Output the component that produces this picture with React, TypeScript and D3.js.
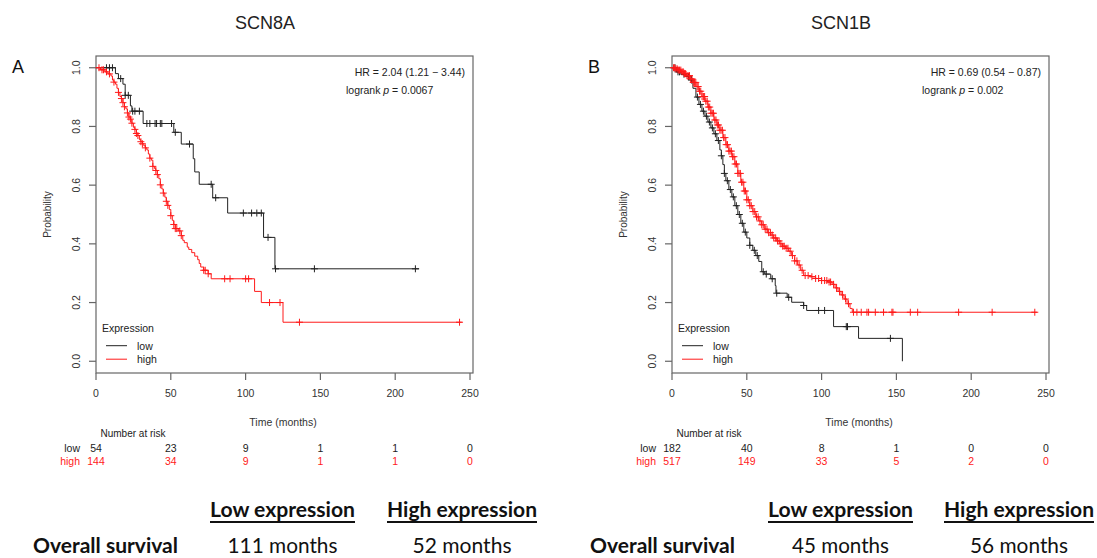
import React from "react";
import * as d3 from "d3";

// ---- data ----
const timeTicks = [0, 50, 100, 150, 200, 250];
const probTicks = [0, 0.2, 0.4, 0.6, 0.8, 1.0];

// SCN8A (panel A)
const scn8aLowSteps: [number, number][] = [
  [0, 1], [13, 0.98], [15, 0.963], [18, 0.944], [19.5, 0.906], [23, 0.87], [24, 0.852],
  [31.5, 0.81], [52, 0.78], [57, 0.74], [65, 0.69], [66, 0.645], [69, 0.603], [78, 0.557],
  [88, 0.505], [112, 0.422], [119.6, 0.315],
];
const scn8aLowEnd = 216;
const scn8aLowCensor = [7, 9, 11, 16.5, 19.5, 21.6, 24.5, 26, 29, 34, 36, 39.5, 40.5, 43, 44, 50.5,
  53, 62.5, 77, 80, 98.5, 104, 107.5, 110.5, 115, 120, 146, 213.5];

const scn8aHighSteps: [number, number][] = [
  [0, 1], [3, 0.993], [6, 0.986], [8, 0.979], [10, 0.972], [11, 0.958], [12, 0.951], [13, 0.944],
  [14, 0.93], [15, 0.916], [16, 0.902], [17, 0.895], [18, 0.881], [19, 0.867], [20, 0.86],
  [21, 0.846], [22, 0.832], [23, 0.825], [24, 0.811], [25, 0.797], [26, 0.79], [27, 0.776],
  [28, 0.769], [29, 0.755], [30, 0.748], [31, 0.741], [32, 0.734], [33, 0.727], [34, 0.72],
  [35, 0.706], [36, 0.692], [37, 0.685], [38, 0.664], [39, 0.657], [40, 0.65], [41, 0.636],
  [42, 0.622], [43, 0.601], [44, 0.587], [45, 0.573], [46, 0.559], [47, 0.545], [48, 0.531],
  [49, 0.517], [50, 0.496], [51, 0.48], [52, 0.466], [53, 0.452], [55, 0.444], [57, 0.428],
  [58, 0.412], [59, 0.404], [61, 0.389], [62, 0.381], [64, 0.37], [66, 0.358], [68, 0.346],
  [69, 0.333], [70, 0.321], [72, 0.31], [75, 0.298], [77, 0.281], [106, 0.238], [110.5, 0.2],
  [125, 0.133],
];
const scn8aHighEnd = 244.5;
const scn8aHighCensor = [2, 4, 5, 7, 9, 12, 15, 17, 18, 19, 21, 22, 23, 24, 26, 27, 28, 30, 31, 33,
  36, 38, 40, 41, 43, 45, 47, 48, 50, 52, 53, 54, 56, 57, 72, 73, 75, 86, 89.6, 100, 102, 116,
  123, 136, 243];

// SCN1B (panel B)
const scn1bLowSteps: [number, number][] = [
  [0, 1], [3, 0.986], [6, 0.978], [9, 0.97], [12, 0.958], [14, 0.93], [16, 0.9], [18, 0.875],
  [20, 0.852], [22, 0.835], [24, 0.815], [26, 0.795], [28, 0.775], [30, 0.752], [32, 0.72],
  [33, 0.7], [34, 0.67], [35, 0.64], [36, 0.615], [38, 0.585], [40, 0.56], [42, 0.53],
  [44, 0.5], [46, 0.47], [48, 0.44], [50, 0.42], [52, 0.395], [54, 0.378], [56, 0.36],
  [58, 0.34], [60, 0.305], [62, 0.297], [66, 0.281], [69, 0.258], [69.5, 0.232], [77, 0.218],
  [80, 0.201], [88, 0.19], [90, 0.173], [108, 0.118], [124.7, 0.078], [154, 0],
];
const scn1bLowEnd = 154;
const scn1bLowCensor = [2, 4, 5, 8, 11, 13, 17, 19, 21, 23, 25, 27, 29, 31, 33, 35, 37, 39, 41, 43,
  45, 47, 49, 52, 55, 57, 61, 63, 67, 70, 78, 88, 98, 102, 116.5, 117.3, 146];

const scn1bHighSteps: [number, number][] = [
  [0, 1], [2, 0.996], [4, 0.992], [6, 0.986], [8, 0.98], [10, 0.973], [12, 0.962], [14, 0.95],
  [16, 0.936], [18, 0.92], [20, 0.902], [22, 0.886], [24, 0.866], [26, 0.845], [28, 0.822],
  [30, 0.805], [32, 0.787], [34, 0.762], [36, 0.738], [38, 0.716], [40, 0.697], [42, 0.672],
  [44, 0.64], [46, 0.61], [48, 0.58], [50, 0.55], [52, 0.53], [54, 0.51], [56, 0.492],
  [58, 0.478], [60, 0.465], [62, 0.45], [64, 0.438], [66, 0.43], [68, 0.42], [70, 0.41],
  [72, 0.4], [74, 0.392], [76, 0.385], [78, 0.375], [80, 0.36], [82, 0.342], [84, 0.328],
  [86, 0.31], [88, 0.292], [92, 0.288], [96, 0.282], [100, 0.275], [104, 0.27], [107, 0.262],
  [109, 0.25], [111, 0.238], [113, 0.226], [115, 0.212], [117, 0.196], [119, 0.18],
  [120.5, 0.167],
];
const scn1bHighEnd = 244;
const scn1bHighCensor = [1, 1.8, 2.6, 3.5, 4.2, 5, 5.9, 6.7, 7.5, 8.4, 9.1, 10, 10.8, 11.7, 12.5,
  13.4, 14.2, 15, 15.9, 16.8, 17.5, 18.4, 19.2, 20.1, 21, 21.8, 22.6, 23.5, 24.3, 25.2, 26, 26.9,
  27.7, 28.6, 29.4, 30.3, 31.1, 32, 32.8, 33.7, 34.5, 35.4, 36.2, 37.1, 38, 38.8, 39.7, 40.5,
  41.4, 42.2, 43.1, 44, 44.8, 45.7, 46.5, 47.4, 48.3, 49.1, 50, 51, 52, 53, 54.2, 55.3, 56.5,
  57.6, 58.8, 60, 61, 62.3, 63.5, 64.6, 65.8, 67, 68, 69.3, 70.5, 71.6, 72.8, 74, 75, 76.3,
  77.5, 79, 80.5, 82, 83.5, 85, 87, 89, 91, 93.5, 96, 98, 100, 102, 103.5, 105, 106, 108, 110,
  112, 114, 116, 118, 121.3, 123.6, 126.5, 130.3, 131.4, 135.9, 141.4, 147, 147.7, 159.3,
  164.2, 191.6, 214, 242.5];

const scn8aRiskLow = [54, 23, 9, 1, 1, 0];
const scn8aRiskHigh = [144, 34, 9, 1, 1, 0];
const scn1bRiskLow = [182, 40, 8, 1, 0, 0];
const scn1bRiskHigh = [517, 149, 33, 5, 2, 0];

const groupLabels = ["low", "high"];
const tableHeaders = ["Low expression", "High expression"];
const tableHeaderWidths = [145, 150];
const scn8aMedians = ["111 months", "52 months"];
const scn8aMedianWidths = [110, 99];
const scn1bMedians = ["45 months", "56 months"];
const scn1bMedianWidths = [97, 98];

const LOW_COLOR = "#222";
const HIGH_COLOR = "#ff1a1a";
const AXIS_COLOR = "#666";
const TEXT_COLOR = "#333";
const RFONT = "'Liberation Sans', Arial, sans-serif";
const TFONT = "Lato, 'Open Sans', sans-serif";

type Curve = { steps: [number, number][]; end: number; censor: number[]; color: string };

function KMPanel(props: {
  left: number;
  title: string;
  letter: string;
  hr: string;
  p: string;
  curves: Curve[];
  riskLow: number[];
  riskHigh: number[];
}) {
  const { left, title, letter, hr, p, curves, riskLow, riskHigh } = props;
  const top = 56;
  const bottom = 373;
  const right = left + 377;
  const x = d3.scaleLinear().domain([0, 252]).range([left, right]);
  const y = d3.scaleLinear().domain([-0.04, 1.04]).range([bottom, top]);
  const line = d3
    .line<[number, number]>()
    .x((d) => x(d[0]))
    .y((d) => y(d[1]))
    .curve(d3.curveStepAfter);
  const bis = d3.bisector((d: [number, number]) => d[0]).right;

  return (
    <g>
      <text x={(left + x(250)) / 2 - 18} y={29} textAnchor="middle" fontFamily={RFONT} fontSize={18} fill="#222">
        {title}
      </text>
      <text x={left - 84} y={73} fontFamily={RFONT} fontSize={18} fill="#111">
        {letter}
      </text>
      <rect x={left} y={top} width={right - left} height={bottom - top} fill="none" stroke={AXIS_COLOR} strokeWidth={1.2} />
      {timeTicks.map((t) => (
        <g key={"xt" + t}>
          <line x1={x(t)} x2={x(t)} y1={bottom} y2={bottom + 7} stroke={AXIS_COLOR} strokeWidth={1.2} />
          <text x={x(t)} y={397} textAnchor="middle" fontFamily={RFONT} fontSize={10.5} fill={TEXT_COLOR}>
            {t}
          </text>
        </g>
      ))}
      {probTicks.map((v) => (
        <g key={"yt" + v}>
          <line x1={left - 7} x2={left} y1={y(v)} y2={y(v)} stroke={AXIS_COLOR} strokeWidth={1.2} />
          <text
            transform={`translate(${left - 16},${y(v)}) rotate(-90)`}
            textAnchor="middle"
            fontFamily={RFONT}
            fontSize={10.5}
            fill={TEXT_COLOR}
          >
            {v.toFixed(1)}
          </text>
        </g>
      ))}
      <text transform={`translate(${left - 45},${(top + bottom) / 2}) rotate(-90)`} textAnchor="middle" fontFamily={RFONT} fontSize={10} fill={TEXT_COLOR}>
        Probability
      </text>
      <text x={(x(0) + x(250)) / 2} y={426} textAnchor="middle" fontFamily={RFONT} fontSize={10.5} fill={TEXT_COLOR}>
        Time (months)
      </text>

      {curves.map((c, ci) => {
        const pts: [number, number][] = [...c.steps, [c.end, c.steps[c.steps.length - 1][1]]];
        return (
          <g key={"c" + ci}>
            <path d={line(pts) || ""} fill="none" stroke={c.color} strokeWidth={1} />
            {c.censor.map((t, i) => {
              const s = c.steps[Math.max(0, bis(c.steps, t) - 1)][1];
              const cx = x(t);
              const cy = y(s);
              return (
                <path key={i} d={`M${cx - 3.5},${cy}H${cx + 3.5}M${cx},${cy - 3.5}V${cy + 3.5}`} stroke={c.color} strokeWidth={1} />
              );
            })}
          </g>
        );
      })}

      <text x={x(250) - 5} y={76} textAnchor="end" fontFamily={RFONT} fontSize={10.5} fill="#222">
        {hr}
      </text>
      <text x={x(250) - 124} y={94} fontFamily={RFONT} fontSize={10.5} fill="#222">
        logrank <tspan fontStyle="italic">p</tspan> = {p}
      </text>

      <text x={left + 6} y={332} fontFamily={RFONT} fontSize={10.5} fill="#222">
        Expression
      </text>
      {groupLabels.map((g, i) => (
        <g key={g}>
          <line x1={left + 10} x2={left + 31} y1={345.7 + i * 13.5} y2={345.7 + i * 13.5} stroke={i === 0 ? LOW_COLOR : HIGH_COLOR} strokeWidth={1} />
          <text x={left + 41} y={349.5 + i * 13.5} fontFamily={RFONT} fontSize={10.5} fill="#222">
            {g}
          </text>
        </g>
      ))}

      <text x={left + 37} y={437} textAnchor="middle" fontFamily={RFONT} fontSize={10} fill="#222">
        Number at risk
      </text>
      {[riskLow, riskHigh].map((row, ri) => (
        <g key={"r" + ri} fill={ri === 0 ? "#222" : HIGH_COLOR} fontFamily={RFONT} fontSize={10.5}>
          <text x={left - 16} y={452 + ri * 13} textAnchor="end">
            {groupLabels[ri]}
          </text>
          {row.map((n, i) => (
            <text key={i} x={x(timeTicks[i])} y={452 + ri * 13} textAnchor="middle">
              {n}
            </text>
          ))}
        </g>
      ))}
    </g>
  );
}

function SurvivalTable(props: { labelX: number; colX: number[]; medians: string[]; medianWidths: number[] }) {
  const { labelX, colX, medians, medianWidths } = props;
  return (
    <g fontFamily={TFONT} fontSize={20.5} fill="#111">
      {tableHeaders.map((h, i) => (
        <text key={h} x={colX[i]} y={517} textAnchor="middle" fontWeight="bold" textLength={tableHeaderWidths[i]} lengthAdjust="spacingAndGlyphs">
          {h}
        </text>
      ))}
      {tableHeaders.map((h, i) => (
        <line
          key={"u" + i}
          x1={colX[i] - tableHeaderWidths[i] / 2}
          x2={colX[i] + tableHeaderWidths[i] / 2}
          y1={522}
          y2={522}
          stroke="#111"
          strokeWidth={1.8}
        />
      ))}
      <text x={labelX} y={553} fontWeight="bold" textLength={145} lengthAdjust="spacingAndGlyphs">
        Overall survival
      </text>
      {medians.map((m, i) => (
        <text key={m} x={colX[i]} y={553} textAnchor="middle" textLength={medianWidths[i]} lengthAdjust="spacingAndGlyphs">
          {m}
        </text>
      ))}
    </g>
  );
}

export default function App() {
  return (
    <svg width={1097} height={558} style={{ position: "absolute", left: 0, top: 0, background: "#fff" }}>
      <KMPanel
        left={96}
        title="SCN8A"
        letter="A"
        hr="HR = 2.04 (1.21 − 3.44)"
        p="0.0067"
        curves={[
          { steps: scn8aLowSteps, end: scn8aLowEnd, censor: scn8aLowCensor, color: LOW_COLOR },
          { steps: scn8aHighSteps, end: scn8aHighEnd, censor: scn8aHighCensor, color: HIGH_COLOR },
        ]}
        riskLow={scn8aRiskLow}
        riskHigh={scn8aRiskHigh}
      />
      <KMPanel
        left={672}
        title="SCN1B"
        letter="B"
        hr="HR = 0.69 (0.54 − 0.87)"
        p="0.002"
        curves={[
          { steps: scn1bLowSteps, end: scn1bLowEnd, censor: scn1bLowCensor, color: LOW_COLOR },
          { steps: scn1bHighSteps, end: scn1bHighEnd, censor: scn1bHighCensor, color: HIGH_COLOR },
        ]}
        riskLow={scn1bRiskLow}
        riskHigh={scn1bRiskHigh}
      />
      <SurvivalTable labelX={33} colX={[282.5, 462]} medians={scn8aMedians} medianWidths={scn8aMedianWidths} />
      <SurvivalTable labelX={590} colX={[840.5, 1019]} medians={scn1bMedians} medianWidths={scn1bMedianWidths} />
    </svg>
  );
}
